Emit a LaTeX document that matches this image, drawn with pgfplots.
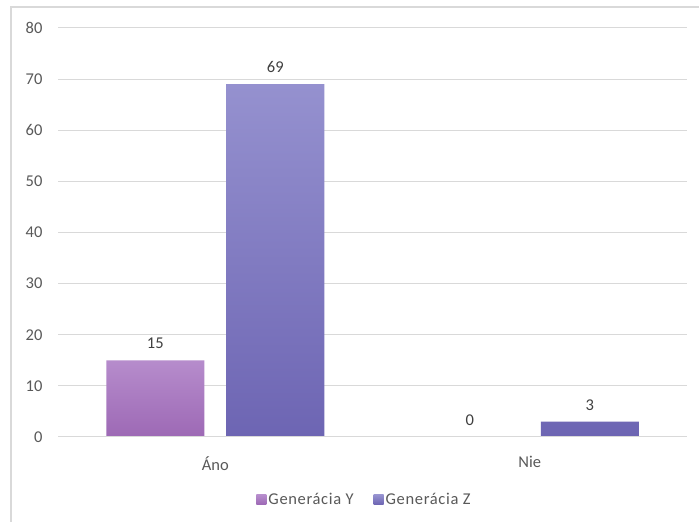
\documentclass[border=0pt]{standalone}
\usepackage{fontspec}
\setmainfont{Carlito}
\usepackage{pgfplots}
\pgfplotsset{compat=1.18}

\definecolor{gridgray}{HTML}{D9D9D9}
\definecolor{ticktext}{HTML}{595959}
\definecolor{labeltext}{HTML}{404040}
\definecolor{genYtop}{HTML}{B68CCC}
\definecolor{genYbot}{HTML}{9D69B5}
\definecolor{genYkey}{HTML}{A878C0}
\definecolor{genZtop}{HTML}{9591CF}
\definecolor{genZbot}{HTML}{6D65B3}
\definecolor{genZkey}{HTML}{7A72C0}

\begin{document}
\begin{tikzpicture}[x=1pt,y=1pt]
  \useasboundingbox (0,0) rectangle (699,522);
  \fill[white] (0,0) rectangle (699,522);
  % chart frame (left and top edges)
  \draw[gridgray, line width=1.2pt] (11,0) -- (11,515) -- (699,515);

  \begin{axis}[
    at={(58pt,85pt)}, anchor=south west,
    scale only axis,
    width=629pt, height=409pt,
    xmin=-0.5, xmax=1.5,
    ymin=0, ymax=80,
    ytick={0,10,...,80},
    xtick={0,1},
    xticklabels={Áno,Nie},
    axis line style={draw=none},
    axis x line*=bottom,
    axis y line*=left,
    major tick length=0pt,
    ymajorgrids,
    grid style={gridgray, line width=1pt},
    every tick label/.append style={ticktext, font=\fontsize{16.5}{18}\selectfont},
    /pgf/number format/assume math mode=true,
    yticklabel style={xshift=-12pt},
    xticklabel style={yshift=-16pt},
    ybar=0pt,
    bar width=98pt,
    nodes near coords,
    every node near coord/.append style={labeltext, font=\fontsize{16.5}{18}\selectfont, yshift=8pt},
    legend style={
      at={(0.5,-0.128)}, anchor=north, xshift=-8pt,
      draw=none, fill=none,
      legend columns=2,
      font=\fontsize{16.5}{18}\selectfont\addfontfeatures{LetterSpace=4},
      text=ticktext,
      /tikz/every even column/.append style={column sep=18pt},
    },
    legend image code/.code={\fill[#1] (0pt,-4.5pt) rectangle (10pt,5pt);},
  ]
    \addplot[draw=none, bar shift=-60pt, top color=genYtop, bottom color=genYbot]
      coordinates {(0,15) (1,0)};
    \addlegendentry{Generácia Y}
    \addplot[draw=none, bar shift=60pt, top color=genZtop, bottom color=genZbot]
      coordinates {(0,69) (1,3)};
    \addlegendentry{Generácia Z}
    % baseline
    \draw[gridgray, line width=1pt] (axis cs:-0.5,0) -- (axis cs:1.5,0);
  \end{axis}
\end{tikzpicture}
\end{document}
